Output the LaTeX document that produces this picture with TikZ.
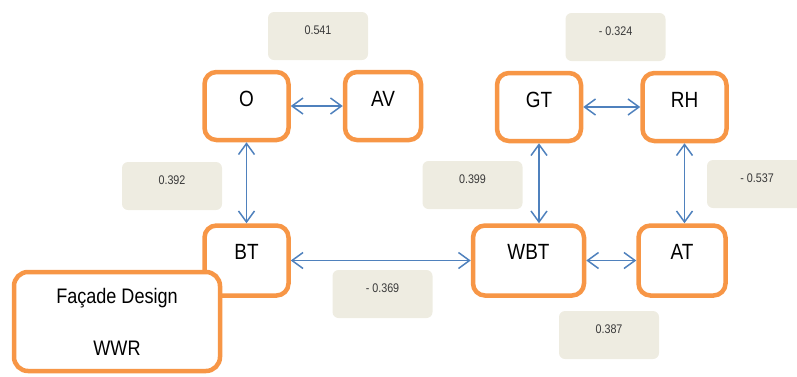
\documentclass[tikz,border=0pt]{standalone}
\usepackage{fontspec}
\setmainfont{Liberation Sans}[FakeStretch=0.86]
\usepackage{tikz}
\usetikzlibrary{arrows.meta,positioning}
\definecolor{factororange}{HTML}{F79646}
\definecolor{linkblue}{HTML}{4F81BD}
\definecolor{coeftan}{HTML}{EEECE1}
\definecolor{coeftext}{HTML}{3A3A3A}
\tikzset{>={Straight Barb[length=11pt,width=16pt]}}
\tikzset{
  factor/.style={draw=factororange, line width=4.5pt, rounded corners=12pt, fill=white, inner sep=0pt, minimum width=84pt, text height=34pt, text depth=34pt, font=\fontsize{22}{26}\selectfont},
  design/.style={draw=factororange, line width=4.5pt, rounded corners=14pt, fill=white, inner sep=0pt, minimum width=206pt, minimum height=99pt, align=center, font=\fontsize{21}{52}\selectfont},
  coef/.style={fill=coeftan, rounded corners=6pt, inner sep=0pt, minimum width=100pt, text height=22pt, text depth=26pt, text=coeftext, font=\fontsize{12.5}{15}\selectfont},
  link/.style={<->, draw=linkblue, line width=1.5pt},
}
\begin{document}
\begin{tikzpicture}[x=1pt, y=-1pt]
\useasboundingbox (0,0) rectangle (797,376);

% coefficient labels
\node[coef] (c541) at (318,36) {0.541};
\node[coef] (c324) at (615.5,37) {- 0.324};
\node[coef] (c392) at (172,186) {0.392};
\node[coef] (c399) at (472.5,185) {0.399};
\node[coef] (c369) at (382.5,294) {- 0.369};
\node[coef] (c537) at (757,184) {- 0.537};
\node[coef] (c387) at (609,335) {0.387};

% left group
\node[factor] (O) at (246.5,106) {O};
\node[factor, right=52pt of O, minimum width=76pt] (AV) {AV};
\node[factor, below=81pt of O, text depth=36pt] (BT) {BT};

% right group
\node[factor, right=180pt of BT, minimum width=111pt, text depth=36pt] (WBT) {WBT};
\node[factor, right=50pt of WBT, minimum width=87pt, text depth=36pt] (AT) {AT};
\node[factor] (GT) at (539,107) {GT};
\node[factor, right=57pt of GT] (RH) {RH};

% design box sits over the corner of BT
\node[design] (facade) at (117,321.5) {Façade Design\\WWR};

% links
\draw[link] (O) -- (AV);
\draw[link] (O.south) -- (O.south |- BT.north);
\draw[link] (BT) -- (WBT);
\draw[link] (GT.south) -- (GT.south |- WBT.north);
\draw[link] (WBT) -- (AT);
\draw[link] (GT) -- (RH);
\draw[link] (RH.south) -- (RH.south |- AT.north);

\end{tikzpicture}
\end{document}
